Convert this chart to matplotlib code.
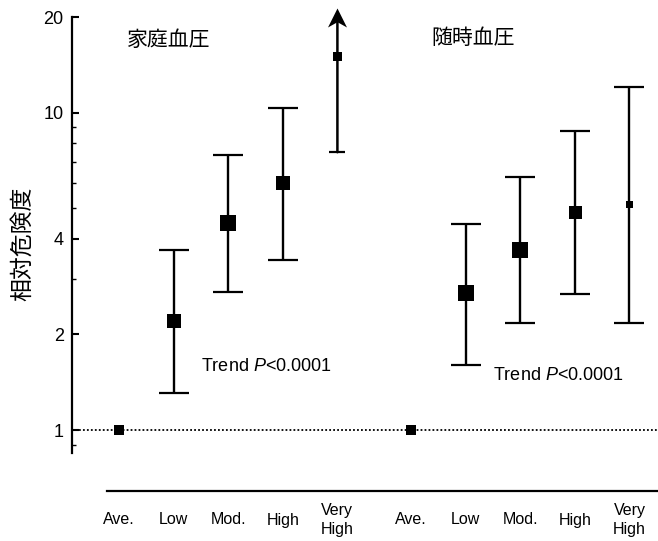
import numpy as np
import matplotlib
matplotlib.use('Agg')
import matplotlib.pyplot as plt
from matplotlib.path import Path
from matplotlib.transforms import blended_transform_factory

# ---------------- data ----------------
categories = ['Ave.', 'Low', 'Mod.', 'High', 'Very\nHigh']
group_titles = ['家庭血圧', '随時血圧']
ylabel_text = '相対危険度'
trend_label = 'Trend $P$<0.0001'

home_rr = [1.0, 2.2, 4.5, 6.0, 15.1]
home_lo = [np.nan, 1.31, 2.72, 3.43, 7.5]
home_hi = [np.nan, 3.69, 7.35, 10.3, np.inf]   # inf -> off-scale (arrow)

casual_rr = [1.0, 2.70, 3.69, 4.86, 5.15]
casual_lo = [np.nan, 1.60, 2.18, 2.68, 2.17]
casual_hi = [np.nan, 4.45, 6.26, 8.75, 12.05]

yticks = [1, 2, 4, 10, 20]
ytick_labels = ['1', '2', '4', '10', '20']
yminor = [0.9, 3, 5, 6, 7, 8, 9]

# styling (marker side lengths in px)
marker_px = [[10, 14, 16, 14, 9], [10, 16, 16, 13, 7]]

# ---------------- figure ----------------
plt.rcParams['font.family'] = ['Liberation Sans', 'DejaVu Sans']
plt.rcParams['mathtext.fontset'] = 'custom'
plt.rcParams['mathtext.rm'] = 'Liberation Sans'
plt.rcParams['mathtext.it'] = 'Liberation Sans:italic'

W, H = 658, 541
fig = plt.figure(figsize=(W / 100, H / 100), dpi=100)
ax = fig.add_axes([72 / W, 1 - 453 / H, 1 - 72 / W, (453 - 17) / H])

ax.set_yscale('log')
ax.set_ylim(0.8464, 20)
ax.set_xlim(-0.861, 9.872)

px2pt = 72 / 100
group_offset = 5.35
groups = [(home_rr, home_lo, home_hi), (casual_rr, casual_lo, casual_hi)]
xs_all = []
blend = blended_transform_factory(ax.transData, ax.transAxes)

# concave arrow-head marker with its tip at the origin
head = Path([(0, 0), (-0.5, -1.0), (0, -0.72), (0.5, -1.0), (0, 0)],
            [Path.MOVETO, Path.LINETO, Path.LINETO, Path.LINETO, Path.CLOSEPOLY])

for g, (rr, lo, hi) in enumerate(groups):
    xs = np.arange(len(categories)) + g * group_offset
    xs_all.extend(xs)
    for i, x in enumerate(xs):
        if not np.isnan(lo[i]):
            if np.isfinite(hi[i]):
                ax.errorbar([x], [rr[i]], yerr=[[rr[i] - lo[i]], [hi[i] - rr[i]]],
                            fmt='none', ecolor='black', elinewidth=1.7,
                            capsize=15 * px2pt, capthick=1.6, zorder=2)
            else:
                ax.plot([x], [lo[i]], marker='_', ms=16 * px2pt, mew=1.6,
                        color='black', zorder=2)
                ax.annotate('', xy=(x, 1.0), xycoords=blend,
                            xytext=(x, lo[i]), textcoords='data',
                            arrowprops=dict(arrowstyle='-', lw=1.8, color='black',
                                            shrinkA=0, shrinkB=0),
                            annotation_clip=False, zorder=2)
                ax.plot([x], [1.021], marker=head, ms=38 * px2pt, mew=0,
                        color='black', transform=blend, clip_on=False, zorder=3)
        ax.plot([x], [rr[i]], marker='s', ms=marker_px[g][i] * px2pt, mew=0,
                color='black', zorder=3, clip_on=False)

# reference line at RR = 1
ax.axhline(1, xmin=0.005, xmax=1, color='black', lw=1.3,
           ls=(0, (1, 1.2)), zorder=1)

# spines
ax.spines['top'].set_visible(False)
ax.spines['right'].set_visible(False)
ax.spines['left'].set_linewidth(1.6)
ax.spines['bottom'].set_linewidth(1.6)
ax.spines['bottom'].set_position(('outward', 38 * px2pt))
ax.spines['bottom'].set_bounds(-0.22, 9.872)

# y ticks
ax.set_yticks(yticks)
ax.set_yticklabels(ytick_labels)
ax.set_yticks(yminor, minor=True)
ax.set_yticklabels([], minor=True)
ax.tick_params(axis='y', which='major', direction='in', length=7 * px2pt,
               width=1.5, labelsize=13, pad=6)
ax.tick_params(axis='y', which='minor', direction='in', length=4 * px2pt,
               width=1.0)

# x ticks
ax.set_xticks(xs_all)
ax.set_xticklabels(categories * 2, fontsize=11.5, va='center', linespacing=1.3)
ax.tick_params(axis='x', which='both', length=0, pad=29 * px2pt)

# titles
ax.text(0.9, 16.9, group_titles[0], ha='center', va='center', fontsize=15,
        family=['Noto Sans CJK JP', 'DejaVu Sans'])
ax.text(6.48, 17.2, group_titles[1], ha='center', va='center', fontsize=15,
        family=['Noto Sans CJK JP', 'DejaVu Sans'])

# trend texts
ax.text(1.5, 1.59, trend_label, ha='left', va='center', fontsize=13)
ax.text(6.85, 1.49, trend_label, ha='left', va='center', fontsize=13)

# y label
fig.text(23 / W, 1 - 244 / H, ylabel_text, rotation=90, ha='center', va='center',
         fontsize=16.5, family=['Noto Sans CJK JP', 'DejaVu Sans'])

fig.savefig('out.png', dpi=100)
